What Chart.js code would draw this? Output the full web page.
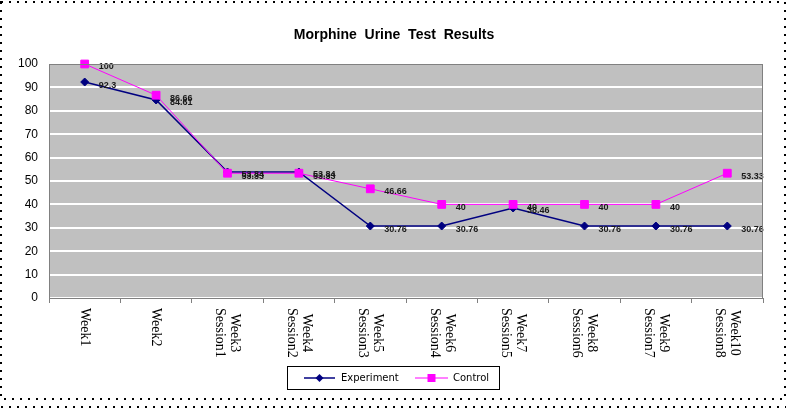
<!DOCTYPE html>
<html>
<head>
<meta charset="utf-8">
<script src="https://cdn.jsdelivr.net/npm/chart.js@4/dist/chart.umd.min.js"></script>
<style>
    body { margin: 0; background: #ffffff; }
    canvas { display: block; }
</style>
</head>
<body>
<canvas id="urineChart" width="787" height="408"></canvas>
<script>
/* =======================
   DATA
======================= */
const categories = [
    ["Week1"], ["Week2"], ["Week3", "Session1"], ["Week4", "Session2"],
    ["Week5", "Session3"], ["Week6", "Session4"], ["Week7", "Session5"],
    ["Week8", "Session6"], ["Week9", "Session7"], ["Week10", "Session8"]
];
const experimentValues = [92.3, 84.61, 53.84, 53.84, 30.76, 30.76, 38.46, 30.76, 30.76, 30.76];
const controlValues = [100, 86.66, 53.33, 53.33, 46.66, 40, 40, 40, 40, 53.33];
const yTicks = [0, 10, 20, 30, 40, 50, 60, 70, 80, 90, 100];

const chartTitle = "Morphine  Urine  Test  Results";

/* =======================
   EXCEL STYLE PLUGIN
======================= */
function drawMarker(ctx, style, x, y, color) {
    ctx.fillStyle = color;
    ctx.beginPath();
    if (style === "rectRot") {
        ctx.moveTo(x, y - 4);
        ctx.lineTo(x + 4, y);
        ctx.lineTo(x, y + 4);
        ctx.lineTo(x - 4, y);
    } else {
        ctx.rect(x - 4, y - 4, 8, 8);
    }
    ctx.closePath();
    ctx.fill();
}

const excelLook = {
    id: "excelLook",
    beforeDraw(chart) {
        const { ctx, chartArea: a } = chart;
        ctx.save();
        ctx.fillStyle = "#c0c0c0";
        ctx.fillRect(a.left, a.top, a.right - a.left, a.bottom - a.top);
        ctx.restore();
    },
    afterDatasetsDraw(chart) {
        const ctx = chart.ctx;
        ctx.save();
        ctx.font = 'bold 9px "Liberation Sans"';
        ctx.fillStyle = "#1a1a1a";
        ctx.textAlign = "left";
        ctx.textBaseline = "middle";
        chart.data.datasets.forEach((ds, di) => {
            chart.getDatasetMeta(di).data.forEach((pt, i) => {
                ctx.fillText(String(ds.data[i]), pt.x + 14, pt.y + 3);
            });
        });
        ctx.restore();
    },
    afterDraw(chart) {
        const { ctx, chartArea: a } = chart;
        const xScale = chart.scales.x;
        ctx.save();

        /* plot border */
        ctx.strokeStyle = "#808080";
        ctx.lineWidth = 1;
        ctx.strokeRect(a.left + 0.5, a.top + 0.5, a.right - a.left - 1, a.bottom - a.top);

        /* title */
        ctx.fillStyle = "#000";
        ctx.font = 'bold 14px "Liberation Sans"';
        ctx.textAlign = "center";
        ctx.textBaseline = "middle";
        ctx.fillText(chartTitle, 394, 35);

        /* rotated category labels */
        ctx.font = '14px "Liberation Serif"';
        categories.forEach((lines, i) => {
            const x = xScale.getPixelForValue(i);
            const maxW = Math.max(...lines.map(l => ctx.measureText(l).width));
            ctx.save();
            ctx.translate(x, 308);
            ctx.rotate(Math.PI / 2);
            ctx.textAlign = "center";
            ctx.textBaseline = "middle";
            lines.forEach((line, li) => {
                ctx.fillText(line, maxW / 2, (li - (lines.length - 1) / 2) * 15);
            });
            ctx.restore();
        });

        /* legend */
        ctx.fillStyle = "#fff";
        ctx.fillRect(287, 366, 212, 23);
        ctx.strokeStyle = "#000";
        ctx.lineWidth = 1;
        ctx.strokeRect(287.5, 366.5, 212, 23);
        const legendItems = [
            { x0: 304, x1: 335, tx: 341 },
            { x0: 415, x1: 448, tx: 453 }
        ];
        ctx.font = '10px "DejaVu Sans"';
        ctx.textAlign = "left";
        ctx.textBaseline = "middle";
        chart.data.datasets.forEach((ds, di) => {
            const it = legendItems[di];
            const ly = 378;
            ctx.strokeStyle = ds.borderColor;
            ctx.lineWidth = ds.borderWidth;
            ctx.beginPath();
            ctx.moveTo(it.x0, ly);
            ctx.lineTo(it.x1, ly);
            ctx.stroke();
            drawMarker(ctx, ds.pointStyle, (it.x0 + it.x1) / 2, ly, ds.borderColor);
            ctx.fillStyle = "#000";
            ctx.fillText(ds.label, it.tx, ly);
        });

        /* dotted frame */
        ctx.strokeStyle = "#000";
        ctx.lineWidth = 2;
        ctx.setLineDash([2, 6]);
        ctx.strokeRect(1, 2, 784, 397);
        ctx.beginPath();
        ctx.moveTo(1, 407);
        ctx.lineTo(786, 407);
        ctx.stroke();

        ctx.restore();
    }
};

/* =======================
   CHART
======================= */
new Chart(document.getElementById("urineChart"), {
    type: "line",
    data: {
        labels: categories,
        datasets: [
            {
                label: "Experiment",
                data: experimentValues,
                borderColor: "#000080",
                backgroundColor: "#000080",
                borderWidth: 1.5,
                pointStyle: "rectRot",
                pointRadius: 4,
                pointBorderWidth: 1,
                tension: 0,
                clip: false,
                order: 1
            },
            {
                label: "Control",
                data: controlValues,
                borderColor: "#ff00ff",
                backgroundColor: "#ff00ff",
                borderWidth: 1,
                pointStyle: "rect",
                pointRadius: 5.5,
                pointBorderWidth: 1,
                tension: 0,
                clip: false,
                order: 0
            }
        ]
    },
    options: {
        responsive: false,
        animation: false,
        layout: { padding: { top: 64, right: 24, left: 0, bottom: 0 } },
        plugins: {
            legend: { display: false },
            title: { display: false },
            tooltip: { enabled: false }
        },
        scales: {
            x: {
                offset: true,
                grid: {
                    offset: true,
                    drawOnChartArea: false,
                    drawTicks: true,
                    tickLength: 5,
                    color: "#808080"
                },
                border: { color: "#808080" },
                ticks: { display: false },
                afterFit(s) { s.height = 110; }
            },
            y: {
                min: 0,
                max: 100,
                afterBuildTicks(s) { s.ticks = yTicks.map(v => ({ value: v })); },
                ticks: {
                    padding: 11,
                    color: "#000",
                    font: { family: "Liberation Sans", size: 12 }
                },
                grid: {
                    drawTicks: false,
                    color: "#ffffff",
                    lineWidth: 2
                },
                border: { color: "#808080" },
                afterFit(s) { s.width = 49; }
            }
        }
    },
    plugins: [excelLook]
});
</script>
</body>
</html>
